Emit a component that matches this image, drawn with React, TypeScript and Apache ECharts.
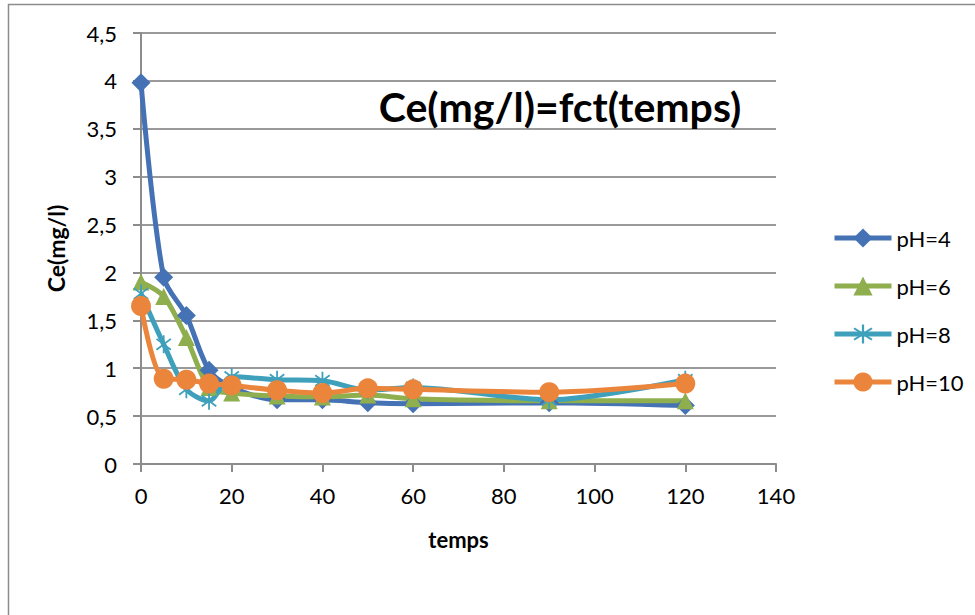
import React, { useEffect, useRef } from "react";
import * as echarts from "echarts";

const times = [0, 5, 10, 15, 20, 30, 40, 50, 60, 90, 120];
const ph4 = [3.98, 1.95, 1.55, 0.98, 0.8, 0.67, 0.67, 0.64, 0.63, 0.64, 0.61];
const ph6 = [1.9, 1.75, 1.32, 0.8, 0.74, 0.71, 0.7, 0.72, 0.68, 0.66, 0.66];
const ph8 = [1.78, 1.25, 0.78, 0.66, 0.91, 0.88, 0.87, 0.77, 0.8, 0.67, 0.88];
const ph10 = [1.65, 0.89, 0.88, 0.84, 0.82, 0.77, 0.74, 0.79, 0.78, 0.75, 0.84];
const seriesNames = ["pH=4", "pH=6", "pH=8", "pH=10"];
const titleText = "Ce(mg/l)=fct(temps)";
const xName = "temps";
const yName = "Ce(mg/l)";

const ASTERISK =
  "path://M9 0L11 0L11 20L9 20Z M2.6 3.2L18.6 15.2L17.4 16.8L1.4 4.8Z M1.4 15.2L17.4 3.2L18.6 4.8L2.6 16.8Z";

const colors = ["#4472B4", "#8FAE4E", "#3FA0BC", "#EB853B"];
const symbols = ["diamond", "triangle", ASTERISK, "circle"];
const symbolSizes = [19, 17, 18, 20];

export default function App() {
  const ref = useRef<HTMLDivElement>(null);
  useEffect(() => {
    if (!ref.current) return;
    const chart = echarts.init(ref.current, undefined, { renderer: "svg" });
    const all = [ph4, ph6, ph8, ph10];
    const font = "Lato";
    chart.setOption({
      animation: false,
      backgroundColor: "#ffffff",
      textStyle: { fontFamily: font },
      grid: { left: 141, right: 199, top: 33, bottom: 151, containLabel: false },
      legend: {
        orient: "vertical",
        left: 832,
        top: 226,
        padding: 0,
        itemWidth: 57,
        itemHeight: 24,
        itemGap: 24,
        lineStyle: { width: 5 },
        textStyle: { fontFamily: font, fontSize: 22, color: "#000", lineHeight: 24 },
        data: seriesNames,
      },
      xAxis: {
        type: "value",
        min: 0,
        max: 140,
        interval: 20,
        name: xName,
        nameLocation: "middle",
        nameGap: 64,
        nameTextStyle: { fontFamily: font, fontSize: 22, fontWeight: "bold", color: "#000" },
        axisLine: { show: true, lineStyle: { color: "#8c8c8c", width: 2 } },
        axisTick: { show: true, length: 8, lineStyle: { color: "#8c8c8c", width: 2 } },
        axisLabel: { fontFamily: font, fontSize: 22, color: "#000", margin: 20 },
        splitLine: { show: false },
      },
      yAxis: {
        type: "value",
        min: 0,
        max: 4.5,
        interval: 0.5,
        name: yName,
        nameLocation: "middle",
        nameGap: 74,
        nameTextStyle: { fontFamily: font, fontSize: 23, fontWeight: "bold", color: "#000" },
        axisLine: { show: true, lineStyle: { color: "#8c8c8c", width: 2 } },
        axisTick: { show: true, length: 8, lineStyle: { color: "#8c8c8c", width: 2 } },
        axisLabel: {
          fontFamily: font,
          fontSize: 22,
          color: "#000",
          margin: 24,
          formatter: (v: number) => String(v).replace(".", ","),
        },
        splitLine: { show: true, lineStyle: { color: "#9a9a9a", width: 2 } },
      },
      graphic: [
        {
          type: "rect",
          shape: { x: 8.5, y: 4.5, width: 1200, height: 900 },
          style: { fill: "none", stroke: "#8c8c8c", lineWidth: 1.5 },
          silent: true,
        },
        {
          type: "text",
          x: 560,
          y: 106,
          z: 10,
          style: {
            text: titleText,
            fontFamily: font,
            fontSize: 41,
            fontWeight: "bold",
            fill: "#000",
            textAlign: "center",
            textVerticalAlign: "middle",
          },
        },
      ],
      series: seriesNames.map((name, i) => ({
        name,
        type: "line",
        data: times.map((t, j) => [t, all[i][j]]),
        smooth: 0.3,
        symbol: symbols[i],
        symbolSize: symbolSizes[i],
        symbolKeepAspect: true,
        showAllSymbol: true,
        lineStyle: { color: colors[i], width: 5 },
        itemStyle: { color: colors[i], opacity: 1 },
        emphasis: { disabled: true },
      })),
    });
    return () => chart.dispose();
  }, []);
  return <div ref={ref} style={{ width: 975, height: 615, position: "absolute", left: 0, top: 0 }} />;
}
